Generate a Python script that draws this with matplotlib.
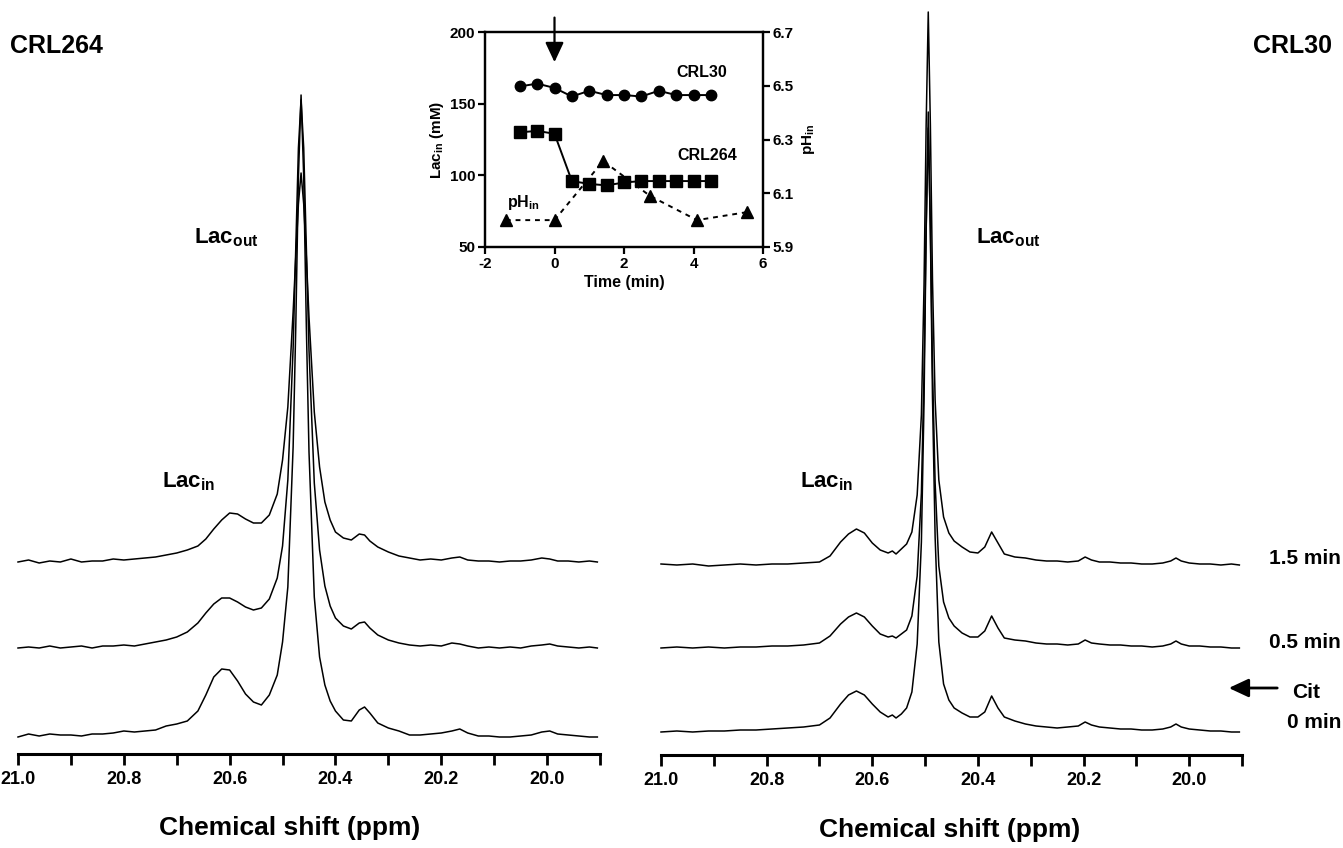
import numpy as np
import matplotlib
matplotlib.use('Agg')
import matplotlib.pyplot as plt
from matplotlib.ticker import FormatStrFormatter

plt.rcParams['font.family'] = ['Liberation Sans', 'DejaVu Sans']
plt.rcParams['font.weight'] = 'bold'
plt.rcParams['axes.labelweight'] = 'bold'
plt.rcParams['axes.unicode_minus'] = False
plt.rcParams['mathtext.fontset'] = 'custom'
plt.rcParams['mathtext.rm'] = 'Liberation Sans:bold'
plt.rcParams['mathtext.it'] = 'Liberation Sans:bold'
plt.rcParams['mathtext.bf'] = 'Liberation Sans:bold'

# ---- CRL264 spectra (left), intensity above each baseline ----
ppm_264 = [21.00, 20.98, 20.96, 20.94, 20.92, 20.90, 20.88, 20.86, 20.84, 20.82,
           20.80, 20.78, 20.76, 20.74, 20.72, 20.70, 20.68, 20.66, 20.645, 20.63,
           20.615, 20.60, 20.585, 20.57, 20.555, 20.54, 20.525, 20.51, 20.50, 20.49,
           20.48, 20.475, 20.47, 20.465, 20.46, 20.455, 20.45, 20.44, 20.43, 20.42,
           20.41, 20.40, 20.385, 20.37, 20.355, 20.345, 20.335, 20.32, 20.30, 20.28,
           20.26, 20.24, 20.22, 20.20, 20.18, 20.165, 20.15, 20.13, 20.11, 20.09,
           20.07, 20.05, 20.03, 20.01, 19.995, 19.98, 19.96, 19.94, 19.92, 19.905]
crl264_15min = [0, 2, -1, 1, 0, 3, 0, 1, 1, 3,
                2, 3, 4, 5, 7, 9, 12, 16, 23, 33,
                42, 49, 48, 43, 39, 39, 47, 68, 102, 155,
                250, 305, 358, 389, 358, 305, 245, 150, 95, 60,
                42, 30, 24, 22, 28, 27, 21, 15, 10, 6,
                4, 2, 3, 2, 4, 5, 2, 1, 1, 0,
                1, 1, 2, 4, 3, 1, 1, 0, 1, 0]
crl264_05min = [0, 1, 0, 2, 0, 1, 2, 0, 2, 2,
                3, 2, 4, 6, 8, 11, 16, 25, 35, 44,
                50, 50, 46, 41, 38, 40, 49, 70, 102, 168,
                300, 400, 500, 548, 500, 400, 298, 165, 98, 62,
                42, 30, 22, 19, 25, 26, 20, 13, 8, 5,
                3, 2, 3, 2, 5, 4, 2, 0, 1, 0,
                1, 0, 2, 3, 4, 2, 1, 0, 1, 0]
crl264_0min = [0, 3, 1, 3, 2, 2, 1, 3, 3, 4,
               6, 5, 6, 7, 11, 13, 16, 26, 42, 60,
               68, 67, 56, 43, 35, 32, 42, 62, 95, 150,
               290, 410, 560, 642, 560, 410, 285, 140, 80, 52,
               36, 26, 17, 16, 27, 30, 24, 14, 9, 6,
               2, 2, 3, 4, 6, 8, 4, 1, 1, 0,
               0, 1, 2, 5, 6, 3, 2, 1, 0, 0]

# ---- CRL30 spectra (right) ----
ppm_30 = [21.00, 20.97, 20.94, 20.91, 20.88, 20.85, 20.82, 20.79, 20.76, 20.73,
          20.70, 20.68, 20.66, 20.645, 20.63, 20.615, 20.60, 20.585, 20.57, 20.562,
          20.555, 20.545, 20.535, 20.525, 20.515, 20.507, 20.502, 20.498, 20.494, 20.49,
          20.486, 20.481, 20.474, 20.465, 20.455, 20.445, 20.43, 20.415, 20.40, 20.387,
          20.374, 20.362, 20.35, 20.33, 20.31, 20.29, 20.27, 20.25, 20.23, 20.21,
          20.197, 20.185, 20.17, 20.15, 20.13, 20.11, 20.09, 20.07, 20.05, 20.035,
          20.025, 20.015, 20.0, 19.98, 19.96, 19.94, 19.92, 19.905]
crl30_15min = [1, 0, 1, -1, 0, 1, 0, 1, 1, 2,
               3, 9, 23, 31, 36, 32, 22, 15, 12, 14,
               11, 16, 21, 33, 70, 150, 280, 440, 553, 440,
               285, 165, 85, 48, 32, 24, 18, 13, 12, 18,
               33, 22, 11, 8, 7, 5, 4, 4, 3, 4,
               8, 5, 3, 3, 2, 2, 1, 1, 2, 4,
               7, 4, 2, 1, 1, 0, 1, 0]
crl30_05min = [0, 1, 0, 1, 0, 1, 1, 2, 2, 3,
               5, 12, 24, 31, 35, 31, 22, 14, 11, 12,
               10, 14, 18, 32, 72, 155, 275, 420, 520, 420,
               280, 165, 82, 46, 30, 22, 15, 11, 11, 17,
               32, 20, 10, 8, 7, 5, 4, 4, 3, 4,
               8, 5, 4, 3, 3, 2, 2, 1, 2, 4,
               7, 4, 2, 2, 1, 1, 0, 0]
crl30_0min = [0, 1, 0, 1, 1, 2, 2, 3, 4, 5,
              7, 14, 28, 37, 41, 37, 28, 20, 15, 17,
              14, 18, 24, 40, 88, 190, 330, 500, 620, 500,
              335, 195, 90, 48, 32, 24, 19, 15, 15, 20,
              36, 24, 15, 11, 8, 6, 5, 4, 5, 6,
              10, 7, 5, 4, 3, 3, 2, 2, 3, 5,
              8, 5, 3, 2, 1, 1, 0, 0]

# ---- inset: intracellular lactate and pH ----
time_lac = [-1, -0.5, 0, 0.5, 1, 1.5, 2, 2.5, 3, 3.5, 4, 4.5]
lac_crl30 = [162, 164, 161, 155, 159, 156, 156, 155, 159, 156, 156, 156]
lac_crl264 = [130, 131, 129, 96, 94, 93, 95, 96, 96, 96, 96, 96]
time_ph = [-1.4, 0, 1.4, 2.75, 4.1, 5.55]
ph_in = [6.0, 6.0, 6.22, 6.09, 6.0, 6.03]

W, H = 1343, 848
fig = plt.figure(figsize=(W / 100, H / 100), dpi=100)


def box(x0, y0, x1, y1):
    return [x0 / W, 1 - y1 / H, (x1 - x0) / W, (y1 - y0) / H]


def px(x, y):
    return (x / W, 1 - y / H)


def spectrum_axes(rect, ymax):
    ax = fig.add_axes(rect)
    ax.patch.set_visible(False)
    ax.set_xlim(21.0, 19.9)
    ax.set_ylim(0, ymax)
    for s in ['top', 'right', 'left']:
        ax.spines[s].set_visible(False)
    ax.spines['bottom'].set_linewidth(2.2)
    ax.set_yticks([])
    ax.set_xticks([21.0, 20.8, 20.6, 20.4, 20.2, 20.0])
    ax.set_xticks([20.9, 20.7, 20.5, 20.3, 20.1, 19.9], minor=True)
    ax.xaxis.set_major_formatter(FormatStrFormatter('%.1f'))
    ax.tick_params(axis='x', which='both', direction='out', length=8, width=2,
                   labelsize=13, pad=4)
    return ax


ax_l = spectrum_axes(box(18, 0, 600, 754), 754)
for vals, off in zip([crl264_0min, crl264_05min, crl264_15min], [17, 106, 192]):
    ax_l.plot(ppm_264, np.array(vals) + off, color='black', lw=1.1, clip_on=False)

ax_r = spectrum_axes(box(661, 0, 1242, 755), 755)
for vals, off in zip([crl30_0min, crl30_05min, crl30_15min], [23, 107, 190]):
    ax_r.plot(ppm_30, np.array(vals) + off, color='black', lw=1.1, clip_on=False)

fig.text(*px(290, 828), 'Chemical shift (ppm)', fontsize=19, ha='center', va='center')
fig.text(*px(950, 830), 'Chemical shift (ppm)', fontsize=19, ha='center', va='center')

fig.text(*px(10, 46), 'CRL264', fontsize=18, ha='left', va='center')
fig.text(*px(1332, 46), 'CRL30', fontsize=18, ha='right', va='center')

fig.text(*px(194, 243), r'Lac$_{\rm out}$', fontsize=16, ha='left', va='baseline')
fig.text(*px(976, 243), r'Lac$_{\rm out}$', fontsize=16, ha='left', va='baseline')
fig.text(*px(162, 487), r'Lac$_{\rm in}$', fontsize=16, ha='left', va='baseline')
fig.text(*px(800, 487), r'Lac$_{\rm in}$', fontsize=16, ha='left', va='baseline')

fig.text(*px(1341, 558), '1.5 min', fontsize=15, ha='right', va='center')
fig.text(*px(1341, 643), '0.5 min', fontsize=15, ha='right', va='center')
fig.text(*px(1341, 722), '0 min', fontsize=15, ha='right', va='center')
fig.text(*px(1292, 692), 'Cit', fontsize=15, ha='left', va='center')
fig.add_artist(matplotlib.patches.FancyArrowPatch(
    px(1280, 688), px(1226, 688), transform=fig.transFigure,
    arrowstyle='-|>,head_length=0.6,head_width=0.28', mutation_scale=20,
    lw=2, color='black'))

# ---- inset ----
ax_in = fig.add_axes(box(485, 32, 763, 247))
ax_in.set_facecolor('white')
ax_in.plot(time_lac, lac_crl30, '-o', color='black', ms=7.5, lw=1.4)
ax_in.plot(time_lac, lac_crl264, '-s', color='black', ms=8, lw=1.4)
ax_in.set_xlim(-2, 6)
ax_in.set_ylim(50, 200)
ax_in.set_xticks([-2, 0, 2, 4, 6])
ax_in.set_yticks([50, 100, 150, 200])
ax_in.set_xlabel('Time (min)', fontsize=11.5, labelpad=3)
ax_in.set_ylabel(r'Lac$_{\rm in}$ (mM)', fontsize=11, labelpad=3)

ax_ph = ax_in.twinx()
ax_ph.plot(time_ph, ph_in, linestyle=(0, (2.5, 2.5)), marker='^', color='black',
           ms=8, lw=1.4, clip_on=False)
ax_ph.set_ylim(5.9, 6.7)
ax_ph.set_yticks([5.9, 6.1, 6.3, 6.5, 6.7])
ax_ph.set_ylabel(r'pH$_{\rm in}$', fontsize=11, labelpad=4)

for a in [ax_in, ax_ph]:
    for s in a.spines.values():
        s.set_linewidth(1.6)
    a.tick_params(direction='out', length=5, width=1.6, labelsize=11, pad=2)

ax_in.text(4.24, 172, 'CRL30', fontsize=11.5, ha='center', va='center')
ax_in.text(4.39, 113.5, 'CRL264', fontsize=11.5, ha='center', va='center')
ax_in.text(-0.91, 80.7, r'pH$_{\rm in}$', fontsize=11.5, ha='center', va='center')
ax_in.annotate('', xy=(0, 177), xytext=(0, 212), annotation_clip=False,
               arrowprops=dict(arrowstyle='-|>,head_length=0.6,head_width=0.28',
                               mutation_scale=20, lw=1.6, color='black'))

fig.savefig('out.png', dpi=100)
